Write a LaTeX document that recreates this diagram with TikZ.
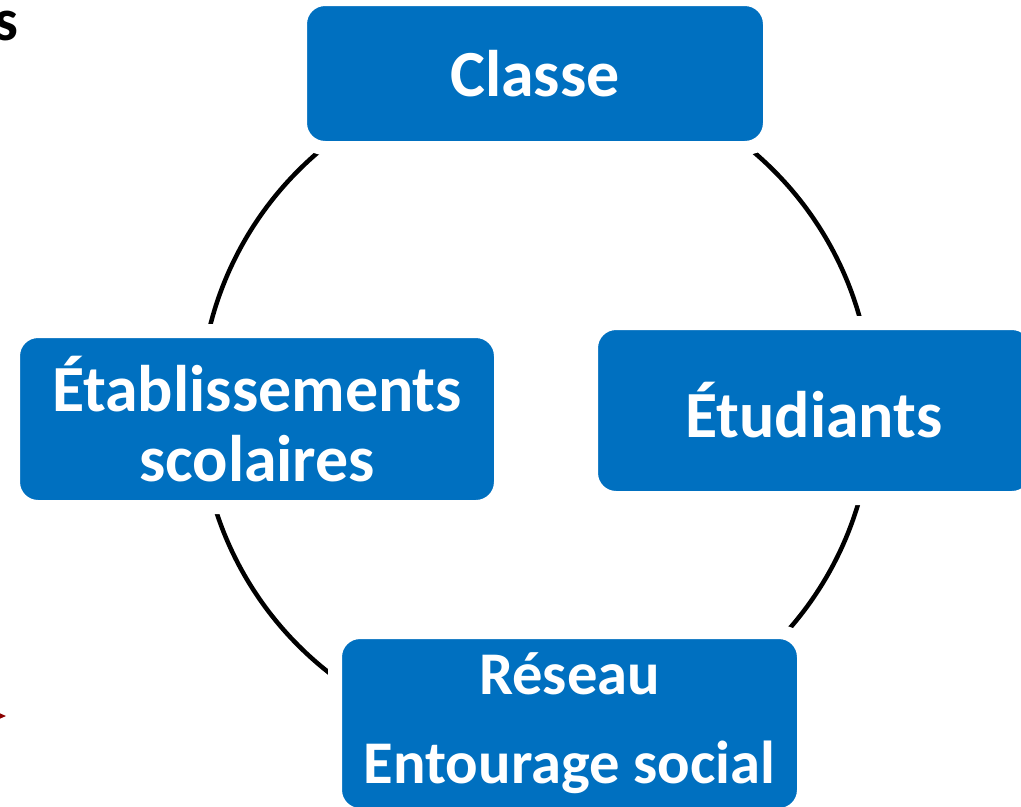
\documentclass[tikz,border=0pt]{standalone}
\usepackage{fontspec}
\setmainfont{Carlito}
\usetikzlibrary{arrows.meta}

\tikzset{
  bloc/.style={fill=blocblue, draw=white, line width=14*0.02cm, rounded corners=0.5cm,
               text=white, font=\bfseries\fontsize{37.5}{45}\selectfont, align=center,
               inner sep=0pt},
  cycle/.style={line width=4.5*0.02cm, black}
}

\begin{document}
\begin{tikzpicture}[x=0.02cm,y=-0.02cm]
        % Define colors
        \definecolor{blocblue}{HTML}{0070C0}
        \definecolor{flechered}{HTML}{8B0000}

        % Frame
        \useasboundingbox (0,0) rectangle (1021,806);
        \clip (0,0) rectangle (1021,806);

        % Circle behind the boxes
        \coordinate (centre) at (536,408);
        \draw[cycle] (centre) circle[radius=336];

        % Boxes
        \node[bloc, minimum width=470*0.02cm, minimum height=149*0.02cm] (classe) at (535,73.5) {Classe};
        \node[bloc, minimum width=488*0.02cm, minimum height=176*0.02cm] (etab) at (257,419)
             {Établissements\\[-0.18cm]scolaires};
        \node[bloc, minimum width=446*0.02cm, minimum height=175*0.02cm] (etud) at (814,410.5) {Étudiants};
        \node[bloc, minimum width=469*0.02cm, minimum height=183*0.02cm,
              font=\bfseries\fontsize{34.5}{41.4}\selectfont] (reseau) at (569.5,723.5)
             {Réseau\\[0.32cm]Entourage social};

        % Cut-off bits at the left edge
        \node[anchor=base east, inner sep=0pt, font=\bfseries\fontsize{34}{40}\selectfont] (bout) at (19,40) {s};
        \coordinate (queue) at (-30,716);
        \coordinate (pointe) at (6,716);
        \draw[flechered, line width=1.5pt, -{Stealth[length=8pt,width=7pt]}] (queue) -- (pointe);
\end{tikzpicture}
\end{document}
